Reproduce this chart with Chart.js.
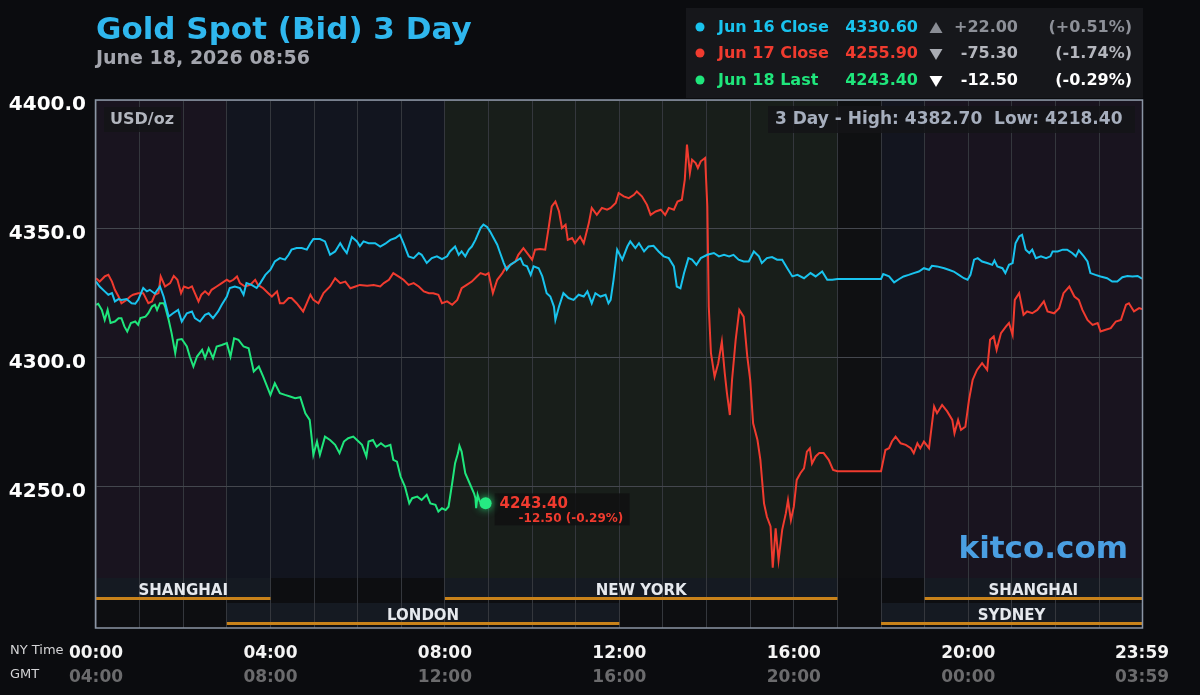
<!DOCTYPE html>
<html><head><meta charset="utf-8">
<script src="https://cdn.jsdelivr.net/npm/chart.js@4/dist/chart.umd.min.js"></script>
<style>html,body{margin:0;padding:0;background:#0b0c0f;}canvas{display:block;}</style>
</head><body>
<div style="width:1200px;height:695px;position:relative"><canvas id="c" width="1200" height="695"></canvas></div>
<script>
// ---- data (minutes after 00:00 NY time, price USD/oz) ----
const jun16Times=[0,5,12,17,22,26,31,35,42,49,54,58,65,70,74,81,88,93,100,106,113,118,125,132,136,143,150,155,161,168,173,180,184,191,198,203,207,214,221,226,233,240,246,253,260,265,269,276,283,290,295,299,308,315,322,329,336,340,345,352,359,363,368,375,384,391,398,405,412,418,423,430,437,444,448,455,462,469,476,483,487,494,499,503,508,513,517,522,529,533,538,542,547,552,556,561,565,570,577,584,588,593,598,602,609,614,620,625,630,632,637,643,650,657,664,671,676,682,687,694,701,705,708,712,717,724,731,735,742,747,754,760,767,774,781,788,795,799,804,809,815,820,826,832,841,850,857,864,871,877,884,891,898,905,912,916,923,930,937,944,951,958,965,974,983,990,999,1006,1013,1020,1080,1083,1091,1098,1105,1111,1118,1125,1132,1139,1146,1150,1157,1167,1173,1180,1187,1194,1199,1203,1208,1213,1219,1226,1233,1236,1240,1247,1251,1256,1261,1265,1270,1274,1279,1284,1288,1293,1300,1307,1313,1316,1323,1330,1336,1343,1348,1352,1359,1364,1368,1375,1382,1391,1398,1405,1412,1419,1426,1433,1439];
const jun16Values=[4329.5,4327.6,4325.7,4324.4,4325,4321.8,4322.7,4322.4,4322.7,4321.1,4320.9,4322.4,4327,4325.7,4326.3,4324.8,4327.6,4323.7,4315.9,4317.2,4318.5,4314,4317.2,4317.9,4315.3,4314,4316.6,4317.2,4315.3,4317.9,4320.5,4323.7,4327,4327.6,4327,4324.4,4328.9,4328.2,4327,4328.9,4332.1,4334.1,4337.3,4338.6,4338,4339.9,4341.9,4342.5,4342.5,4341.9,4344.4,4346,4346,4345.1,4339.9,4341.2,4344.4,4342.5,4340.6,4346.8,4345.1,4343.2,4345.1,4344.4,4344.4,4343.1,4344.2,4345.7,4346.4,4347.7,4344.4,4339.3,4338.6,4340.6,4339.9,4336.7,4338.6,4339.3,4338.2,4339.3,4341.2,4343.1,4339.9,4341.2,4339.3,4341.9,4343.1,4345.7,4350.3,4351.6,4350.7,4349,4346.4,4343.8,4340.6,4336.7,4334.1,4336,4337.3,4338.6,4336,4335.4,4332.1,4335.4,4334.7,4331.5,4325,4323.7,4319.8,4314.6,4319.8,4325,4323.1,4322.4,4324.4,4323.7,4325.7,4321.1,4325,4323.7,4324.4,4321.1,4322.4,4330.2,4341.9,4338,4343.1,4345.1,4342.5,4344.4,4341.2,4343.1,4343.4,4341.2,4339.3,4338.6,4335.4,4327.6,4326.9,4332.8,4338.6,4338,4336,4338.6,4339.9,4340.6,4339.3,4339.9,4339.3,4339.9,4338,4337.3,4337.3,4341.2,4339.3,4336.7,4338.6,4339,4338,4338,4334.7,4331.5,4332.1,4330.8,4332.8,4331.5,4333.4,4330.2,4330.2,4330.5,4330.5,4332.4,4331.5,4329.2,4330.5,4331.5,4332.1,4332.8,4333.4,4334.7,4334.1,4335.6,4335.4,4334.7,4334.1,4333.4,4332.1,4330.8,4330.2,4332.1,4338,4338.6,4337.3,4336.7,4336,4337.7,4335.4,4334.7,4332.8,4336,4336.7,4344.4,4347,4347.7,4341.9,4340.6,4341.9,4338.6,4339.3,4338.6,4339.3,4341.2,4341.2,4341.9,4341.9,4340.6,4339.3,4341.6,4339.3,4337.3,4332.8,4332.1,4331.5,4330.8,4329.5,4329.5,4331.2,4331.7,4331.5,4331.7,4330.6];

const jun17Times=[0,5,12,17,22,26,31,35,42,47,51,58,65,72,77,81,86,89,95,102,107,112,117,121,127,132,136,141,145,150,155,159,166,173,180,184,189,194,198,205,212,219,223,230,237,242,249,253,258,265,269,276,285,290,295,299,306,313,322,329,336,343,350,357,363,373,382,391,396,403,409,416,423,430,437,444,451,458,464,471,476,483,490,497,503,510,517,524,529,536,540,546,552,559,563,570,577,581,588,595,600,604,611,618,623,627,632,637,641,646,649,655,659,666,671,678,682,689,696,703,708,715,719,726,733,740,744,751,758,763,770,777,783,788,795,800,806,810,813,817,820,825,828,832,838,841,843,846,851,856,861,865,868,872,875,880,885,891,896,900,904,910,914,919,923,928,931,935,939,944,949,952,956,960,964,969,974,978,982,985,990,995,1001,1008,1014,1020,1080,1086,1091,1095,1100,1107,1114,1121,1125,1130,1134,1139,1146,1153,1157,1164,1171,1178,1181,1186,1190,1196,1201,1206,1212,1219,1226,1230,1235,1239,1245,1252,1256,1261,1264,1270,1276,1281,1288,1295,1304,1309,1318,1325,1331,1339,1346,1352,1357,1364,1371,1378,1382,1389,1396,1403,1410,1417,1421,1428,1435,1439];
const jun17Values=[4330.8,4329.5,4331.5,4332.1,4329.5,4326.3,4323.7,4321.1,4322.4,4323.7,4324.4,4325,4325,4321.1,4321.8,4324.4,4325,4331.5,4327.6,4328.9,4331.7,4330.2,4325,4327.6,4326.9,4327.6,4325,4321.8,4324.4,4325.7,4324.4,4326.3,4327.6,4328.9,4330.2,4329.5,4330.2,4331.5,4328.9,4327.6,4328.2,4330.2,4328.2,4326.9,4325,4323.7,4325.7,4321.1,4321.1,4323.1,4323.1,4321.1,4317.9,4321.1,4324.4,4322.4,4321.1,4325,4327.6,4330.8,4328.9,4329.5,4326.9,4327.6,4328.2,4327.9,4328.2,4327.6,4328.9,4330.2,4332.8,4331.5,4330.2,4328.2,4328.9,4327.6,4325.7,4325,4325,4324.4,4321.1,4321.8,4320.5,4322.4,4326.9,4328.2,4329.5,4331.5,4332.8,4332.1,4332.8,4325,4330.2,4332.8,4334.7,4336,4337.3,4339.9,4342.5,4339.9,4338,4341.9,4342.1,4341.9,4350.9,4358.7,4360.6,4356.7,4350.3,4351.6,4345.7,4346.4,4344.4,4347,4344.4,4352.2,4358.1,4355.4,4358.1,4357.4,4358.1,4360,4363.9,4362.6,4361.9,4363.2,4364.5,4362.6,4359.3,4355.4,4356.7,4357.4,4355.4,4358.1,4357.4,4360.6,4361.3,4369.1,4382.7,4371.6,4376.8,4375.5,4373.6,4376.2,4377.5,4358.7,4319.8,4301.7,4292.6,4297.8,4306.2,4293.9,4286.2,4277.7,4291.3,4306.9,4318.5,4315.9,4300.4,4291.3,4274.5,4268,4260.3,4243.4,4238.2,4234.4,4218.4,4233.7,4221.4,4233.1,4239.5,4244.7,4236.9,4242.1,4252.5,4255.1,4257,4263.5,4264.8,4258.9,4261.6,4262.9,4262.9,4260.3,4256.4,4255.9,4255.9,4264.1,4264.8,4267.4,4269.3,4266.7,4266.1,4264.8,4262.9,4266.7,4264.8,4267.4,4264.8,4281,4278.4,4281.6,4279.1,4275.8,4270.6,4275.8,4271.9,4273.2,4283.6,4291.3,4295.2,4297.8,4295.2,4306.9,4308.2,4303,4309.5,4312.1,4313.4,4308.8,4322.4,4325,4316.6,4317.9,4317.2,4318.5,4321.8,4317.9,4317.2,4319.2,4325,4327.6,4323.7,4322.4,4318.5,4314.6,4312.7,4313.4,4310.1,4310.8,4311.4,4314,4314.6,4320.5,4321.1,4317.9,4319.2,4318.8];

const jun18Times=[0,3,8,12,16,20,26,31,35,39,43,48,54,58,61,68,72,77,81,84,88,93,95,100,104,109,112,118,125,129,134,139,146,150,155,161,166,173,180,185,190,196,203,210,217,224,230,240,246,253,260,267,274,281,288,294,297,299,304,308,315,322,329,335,341,347,354,359,366,372,375,381,386,392,398,405,409,414,419,425,431,435,442,448,455,460,467,471,476,481,485,490,494,498,500,503,508,514,520,522,523,525,528,531,536];
const jun18Values=[4320.5,4320.9,4318.5,4314.6,4318.5,4313.4,4314,4315.3,4315.3,4312.1,4310.1,4313.4,4314,4312.7,4315.3,4315.9,4317.2,4319.8,4320.5,4318.5,4321.1,4321.1,4319.8,4314.6,4309.5,4301.7,4306.9,4307.2,4304.3,4300.4,4296.5,4300.4,4303,4299.8,4303.6,4299.8,4304.3,4304.9,4305.6,4300.4,4307.5,4306.9,4304.3,4303.6,4294.6,4296.5,4292.6,4285.5,4290,4286.2,4285.5,4284.9,4284.2,4284.6,4278.4,4275.8,4268,4262.2,4267.4,4262.2,4269.3,4268,4266.1,4262.9,4267.4,4268.7,4269.3,4268,4266.1,4261.6,4267.4,4268,4265.4,4266.7,4265.4,4266.1,4260.3,4259.6,4253.8,4249.9,4243.4,4245.4,4246,4244.7,4246.7,4243.4,4242.8,4240.2,4241.5,4240.8,4242.1,4251.2,4259,4262.9,4265.7,4263.5,4255.1,4251.2,4247.3,4245.4,4241.5,4246.7,4244.1,4243.4,4243.4];

const yTickValues=[4250,4300,4350,4400];
const nyTimeLabels=['00:00','04:00','08:00','12:00','16:00','20:00','23:59'];
const gmtTimeLabels=['04:00','08:00','12:00','16:00','20:00','00:00','03:59'];
const labelMinutes=[0,240,480,720,960,1200,1439];
const legendNames=['Jun 16 Close','Jun 17 Close','Jun 18 Last'];
const legendPrices=['4330.60','4255.90','4243.40'];
const legendChanges=['+22.00','-75.30','-12.50'];
const legendPcts=['(+0.51%)','(-1.74%)','(-0.29%)'];
const seriesColors=['#19c3ee','#f03b2f','#1fe67c'];

const shading=[[0,180,'#19141f'],[180,480,'#12151f'],[480,1020,'#181e1a'],[1020,1080,'#0f1012'],[1080,1140,'#13151f'],[1140,1439,'#19141f']];
const sessionsRow1=[[0,240,'SHANGHAI'],[480,1020,'NEW YORK'],[1140,1439,'SHANGHAI']];
const sessionsRow2=[[180,720,'LONDON'],[1080,1439,'SYDNEY']];

const toPts=(t,v)=>t.map((x,i)=>({x:x,y:v[i]}));
const F='"DejaVu Sans", Verdana, sans-serif';

const bgPlugin={id:'bg',beforeDraw(chart){
  const ctx=chart.ctx, ca=chart.chartArea, xs=chart.scales.x;
  ctx.save();
  ctx.fillStyle='#0b0c0f'; ctx.fillRect(0,0,chart.width,chart.height);
  const bandTop=ca.bottom-50;
  shading.forEach(s=>{const a=xs.getPixelForValue(s[0]),b=xs.getPixelForValue(s[1]);ctx.fillStyle=s[2];ctx.fillRect(a,ca.top,b-a,bandTop-ca.top);});
  ctx.fillStyle='#0d0e11'; ctx.fillRect(ca.left,bandTop,ca.right-ca.left,50);
  ctx.fillStyle='#151a22';
  sessionsRow1.forEach(s=>{const a=xs.getPixelForValue(s[0]),b=xs.getPixelForValue(s[1]);ctx.fillRect(a,bandTop,b-a,22);});
  sessionsRow2.forEach(s=>{const a=xs.getPixelForValue(s[0]),b=xs.getPixelForValue(s[1]);ctx.fillRect(a,bandTop+25,b-a,22);});
  ctx.restore();
}};

function tri(ctx,x,y,up,col){ctx.fillStyle=col;ctx.beginPath();if(up){ctx.moveTo(x,y-6);ctx.lineTo(x+6.5,y+5);ctx.lineTo(x-6.5,y+5);}else{ctx.moveTo(x-6.5,y-5);ctx.lineTo(x+6.5,y-5);ctx.lineTo(x,y+6);}ctx.closePath();ctx.fill();}

const overPlugin={id:'over',afterDraw(chart){
  const ctx=chart.ctx, ca=chart.chartArea, xs=chart.scales.x, ys=chart.scales.y;
  const bandTop=ca.bottom-50;
  ctx.save();
  // session labels + orange lines
  ctx.font='bold 15px '+F; ctx.textAlign='center'; ctx.textBaseline='middle';
  const drawRow=(arr,top)=>arr.forEach(s=>{const a=xs.getPixelForValue(s[0]),b=xs.getPixelForValue(s[1]);
    ctx.fillStyle='#c8821a';ctx.fillRect(a,top+19,b-a,3);
    ctx.fillStyle='#e6e9ee';ctx.fillText(s[2],(a+b)/2,top+13);});
  drawRow(sessionsRow1,bandTop); drawRow(sessionsRow2,bandTop+25);
  // border
  ctx.strokeStyle='#8b95a5'; ctx.lineWidth=1.5;
  ctx.strokeRect(ca.left-0.5,ca.top,ca.right-ca.left+1,ca.bottom-ca.top);
  // title
  ctx.textAlign='left'; ctx.textBaseline='alphabetic';
  ctx.fillStyle='#2fb7ee'; ctx.font='bold 31px '+F; ctx.fillText('Gold Spot (Bid) 3 Day',96,39);
  ctx.fillStyle='#a3a5ad'; ctx.font='bold 19px '+F; ctx.fillText('June 18, 2026 08:56',96,64);
  // legend box
  ctx.fillStyle='#16171b'; ctx.fillRect(686,8,457,90);
  const rowsY=[28,54,81];
  const chgCols=['#8d9098','#b4b6bd','#ffffff'];
  const triCols=['#8a8d95','#a9acb3','#ffffff'];
  ctx.font='bold 16px '+F; ctx.textBaseline='middle';
  for(let i=0;i<3;i++){
    const y=rowsY[i];
    ctx.fillStyle=seriesColors[i]; ctx.beginPath(); ctx.arc(700,y-1,4.5,0,Math.PI*2); ctx.fill();
    ctx.textAlign='left'; ctx.fillText(legendNames[i],718,y);
    ctx.textAlign='right'; ctx.fillText(legendPrices[i],918,y);
    tri(ctx,936,y,i===0,triCols[i]);
    ctx.fillStyle=chgCols[i]; ctx.fillText(legendChanges[i],1018,y); ctx.fillText(legendPcts[i],1132,y);
  }
  // USD/oz box
  ctx.fillStyle='rgba(20,20,24,0.85)'; ctx.fillRect(104,107,77,25);
  ctx.fillStyle='#b2b6be'; ctx.font='bold 16px '+F; ctx.textAlign='left'; ctx.fillText('USD/oz',110,120);
  // high/low box
  ctx.fillStyle='rgba(20,20,24,0.85)'; ctx.fillRect(768,106,367,27);
  ctx.fillStyle='#a6aebd'; ctx.font='bold 17px '+F; ctx.fillText('3 Day - High: 4382.70  Low: 4218.40',775,120);
  // kitco
  ctx.fillStyle='#4a9fe2'; ctx.font='bold 31px '+F; ctx.textAlign='right'; ctx.fillText('kitco.com',1128,550);
  // last value annotation
  const lx=xs.getPixelForValue(jun18Times[jun18Times.length-1]), ly=ys.getPixelForValue(jun18Values[jun18Values.length-1]);
  ctx.fillStyle='rgba(16,17,18,0.85)'; ctx.fillRect(lx+9,ly-10,135,32);
  ctx.save(); ctx.shadowColor='rgba(40,240,130,0.9)'; ctx.shadowBlur=8;
  ctx.fillStyle='#25ea82'; ctx.beginPath(); ctx.arc(lx,ly,6,0,Math.PI*2); ctx.fill(); ctx.restore();
  ctx.textAlign='left'; ctx.fillStyle='#f03b2f'; ctx.font='bold 15px '+F; ctx.fillText('4243.40',lx+14,ly+1);
  ctx.font='bold 12px '+F; ctx.fillText('-12.50 (-0.29%)',lx+33,ly+16);
  // x labels
  ctx.textAlign='center'; ctx.font='bold 17px '+F;
  labelMinutes.forEach((m,i)=>{const x=xs.getPixelForValue(m);
    ctx.fillStyle='#f4f4f4'; ctx.fillText(nyTimeLabels[i],x,654);
    ctx.fillStyle='#6b6b6d'; ctx.fillText(gmtTimeLabels[i],x,678);});
  ctx.textAlign='left'; ctx.font='13px '+F; ctx.fillStyle='#d4d4d6';
  ctx.fillText('NY Time',10,651); ctx.fillText('GMT',10,675);
  ctx.restore();
}};

const mk=(t,v,c)=>({data:toPts(t,v),borderColor:c,borderWidth:2,pointRadius:0,tension:0,fill:false});

new Chart(document.getElementById('c'),{
  type:'line',
  data:{datasets:[mk(jun16Times,jun16Values,seriesColors[0]),mk(jun17Times,jun17Values,seriesColors[1]),mk(jun18Times,jun18Values,seriesColors[2])]},
  options:{
    responsive:false,animation:false,devicePixelRatio:1,
    layout:{padding:{top:100,right:58,left:0,bottom:0}},
    plugins:{legend:{display:false},tooltip:{enabled:false}},
    scales:{
      x:{type:'linear',min:0,max:1439,
        afterBuildTicks:(s)=>{const t=[];for(let h=0;h<24;h++)t.push({value:h*60});t.push({value:1439});s.ticks=t;},
        afterFit:(s)=>{s.height=67;},
        ticks:{display:false},border:{display:false},
        grid:{color:'#34373d',lineWidth:1,drawTicks:false}},
      y:{min:4195,max:4400,
        afterBuildTicks:(s)=>{s.ticks=yTickValues.map(v=>({value:v}));},
        afterFit:(s)=>{s.width=96;},
        border:{display:false},
        grid:{color:'#44474e',lineWidth:1,drawTicks:false},
        ticks:{color:'#ffffff',font:{family:'DejaVu Sans',size:20,weight:'bold'},padding:10,labelOffset:5,callback:(v)=>Number(v).toFixed(1)}}
    }
  },
  plugins:[bgPlugin,overPlugin]
});
</script>
</body></html>
